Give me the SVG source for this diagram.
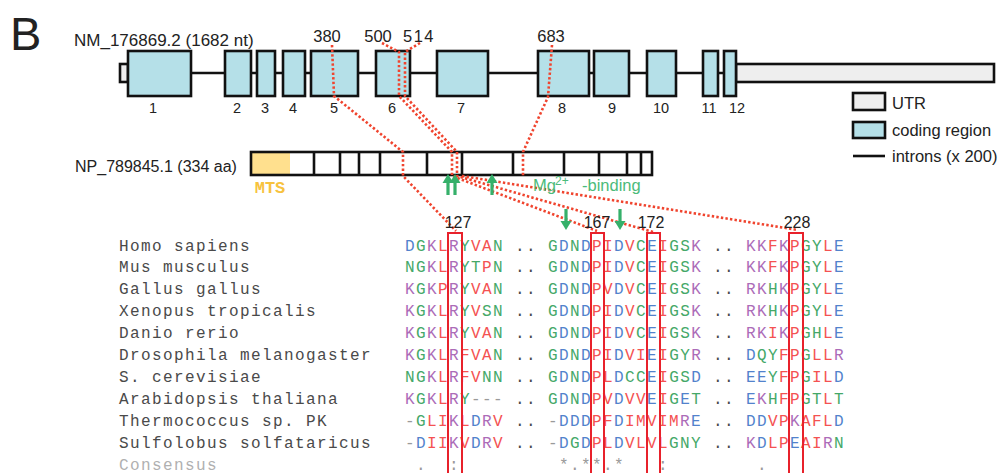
<svg xmlns="http://www.w3.org/2000/svg" xmlns:xlink="http://www.w3.org/1999/xlink" width="1005" height="473" viewBox="0 0 1005 473">
<style>
.sans{font-family:"Liberation Sans",Arial,sans-serif;fill:#222}
.mono{font-family:"Liberation Mono","Courier New",monospace;font-size:16px;letter-spacing:1.4px}
.sp{fill:#4a4a4a}
.b{fill:#5282cc}.r{fill:#f45252}.g{fill:#45a868}.m{fill:#ac6cb8}.x{fill:#9a9a9a}
.exon{fill:#b5e0e8;stroke:#111;stroke-width:2.6}
.utr{fill:#eeeeee;stroke:#111;stroke-width:2.6}
.seg{fill:none;stroke:#111;stroke-width:2.6}
.dot{fill:none;stroke:#f0442e;stroke-width:2.6;stroke-dasharray:2.4 2.2}
.box{fill:none;stroke:#e8212b;stroke-width:2}
.arr{fill:#35b06a}
</style>
<defs>
<g id="uparrow"><polygon points="0,0 -5.5,9 5.5,9"/><rect x="-1.6" y="8" width="3.2" height="13"/></g>
</defs>
<rect width="1005" height="473" fill="#fff"/>
<text class="sans" x="10" y="50" font-size="47">B</text>

<!-- gene structure -->
<g id="transcript">
<text class="sans" x="74" y="46" font-size="17">NM_176869.2 (1682 nt)</text>
<line x1="128" y1="73" x2="736" y2="73" stroke="#111" stroke-width="2.6"/>
<rect class="utr" x="120" y="64" width="8" height="18"/>
<rect class="utr" x="736" y="64" width="258" height="18"/>
<g id="exon1"><rect class="exon" x="128" y="51" width="63" height="45"/><text class="sans" x="153" y="113" font-size="14.5" text-anchor="middle">1</text></g>
<g id="exon2"><rect class="exon" x="225" y="51" width="26" height="45"/><text class="sans" x="237" y="113" font-size="14.5" text-anchor="middle">2</text></g>
<g id="exon3"><rect class="exon" x="257" y="51" width="18" height="45"/><text class="sans" x="265" y="113" font-size="14.5" text-anchor="middle">3</text></g>
<g id="exon4"><rect class="exon" x="283" y="51" width="22" height="45"/><text class="sans" x="293" y="113" font-size="14.5" text-anchor="middle">4</text></g>
<g id="exon5"><rect class="exon" x="311" y="51" width="47" height="45"/><text class="sans" x="334" y="113" font-size="14.5" text-anchor="middle">5</text></g>
<g id="exon6"><rect class="exon" x="376" y="51" width="34" height="45"/><text class="sans" x="392" y="113" font-size="14.5" text-anchor="middle">6</text></g>
<g id="exon7"><rect class="exon" x="437" y="51" width="51" height="45"/><text class="sans" x="461" y="113" font-size="14.5" text-anchor="middle">7</text></g>
<g id="exon8"><rect class="exon" x="538" y="51" width="51" height="45"/><text class="sans" x="562" y="113" font-size="14.5" text-anchor="middle">8</text></g>
<g id="exon9"><rect class="exon" x="594" y="51" width="35" height="45"/><text class="sans" x="612" y="113" font-size="14.5" text-anchor="middle">9</text></g>
<g id="exon10"><rect class="exon" x="647" y="51" width="29" height="45"/><text class="sans" x="661" y="113" font-size="14.5" text-anchor="middle">10</text></g>
<g id="exon11"><rect class="exon" x="703" y="51" width="15" height="45"/><text class="sans" x="709" y="113" font-size="14.5" text-anchor="middle">11</text></g>
<g id="exon12"><rect class="exon" x="724" y="51" width="12" height="45"/><text class="sans" x="737" y="113" font-size="14.5" text-anchor="middle">12</text></g>
<text class="sans" x="327" y="42" font-size="16.5" text-anchor="middle">380</text>
<text class="sans" x="378" y="42" font-size="16.5" text-anchor="middle">500</text>
<text class="sans" x="419" y="42" font-size="16.5" text-anchor="middle" letter-spacing="1.5">514</text>
<text class="sans" x="551" y="42" font-size="16.5" text-anchor="middle">683</text>
</g>

<!-- legend -->
<g id="legend">
<rect class="utr" x="853" y="93" width="32" height="17"/>
<text class="sans" x="892" y="109" font-size="16.5">UTR</text>
<rect class="exon" x="853" y="122" width="32" height="16"/>
<text class="sans" x="892" y="136" font-size="16.5">coding region</text>
<line x1="853" y1="156" x2="885" y2="156" stroke="#111" stroke-width="2.6"/>
<text class="sans" x="892" y="162" font-size="16.5">introns (x 200)</text>
</g>

<!-- protein -->
<g id="protein">
<text class="sans" x="75" y="172" font-size="16">NP_789845.1 (334 aa)</text>
<rect x="251" y="152" width="39" height="23" fill="#ffe08e"/>
<rect class="seg" x="251" y="152" width="401" height="23"/>
<path class="seg" d="M314 152V175M340 152V175M359 152V175M380 152V175M427 152V175M462 152V175M513 152V175M564 152V175M599 152V175M627 152V175M641 152V175"/>
<text x="270" y="193" font-family="Liberation Mono,Courier New,monospace" font-weight="bold" font-size="17" fill="#f7c23e" text-anchor="middle">MTS</text>
</g>

<!-- connectors -->
<g id="connectors">
<polyline class="dot" points="332,45 334,96 403,152 403,176 456,231"/>
<polyline class="dot" points="382,43 399,52 399,96 452,152 452,176 597,231"/>
<polyline class="dot" points="420,43 405,52 405,96 457,152 457,176 653,232"/>
<polyline class="dot" points="552,45 548,97 523,152 523,176"/>
<line class="dot" x1="462" y1="176" x2="798" y2="230"/>
</g>

<g id="mg-binding" class="arr">
<use xlink:href="#uparrow" href="#uparrow" transform="translate(448,174)"/>
<use xlink:href="#uparrow" href="#uparrow" transform="translate(455,174)"/>
<use xlink:href="#uparrow" href="#uparrow" transform="translate(492,174)"/>
<use xlink:href="#uparrow" href="#uparrow" transform="translate(566,230) rotate(180)"/>
<use xlink:href="#uparrow" href="#uparrow" transform="translate(620,230) rotate(180)"/>
<text x="533" y="191" font-family="Liberation Sans,Arial,sans-serif" font-size="16.5" fill="#4cbb7a">Mg<tspan x="555" dy="-6" font-size="12">2+</tspan><tspan x="582" dy="6">-binding</tspan></text>
</g>

<!-- residue numbers -->
<g id="positions">
<text class="sans" x="458" y="228" font-size="16" text-anchor="middle">127</text>
<text class="sans" x="597" y="228" font-size="16" text-anchor="middle">167</text>
<text class="sans" x="651" y="228" font-size="16" text-anchor="middle">172</text>
<text class="sans" x="797" y="228" font-size="16" text-anchor="middle">228</text>
</g>

<!-- alignment -->
<g id="alignment" class="mono">
<g id="row-homo">
<text class="sp" x="119" y="250.5">Homo sapiens</text>
<text x="405" y="250.5"><tspan class="b">D</tspan><tspan class="g">G</tspan><tspan class="m">K</tspan><tspan class="r">L</tspan><tspan class="m">R</tspan><tspan class="g">Y</tspan><tspan class="r">VA</tspan><tspan class="g">N</tspan></text>
<text class="sp" x="515" y="250.5">..</text>
<text x="548" y="250.5"><tspan class="g">G</tspan><tspan class="b">D</tspan><tspan class="g">N</tspan><tspan class="b">D</tspan><tspan class="r">PI</tspan><tspan class="b">D</tspan><tspan class="r">V</tspan><tspan class="g">C</tspan><tspan class="b">E</tspan><tspan class="r">I</tspan><tspan class="g">GS</tspan><tspan class="m">K</tspan></text>
<text class="sp" x="713" y="250.5">..</text>
<text x="746" y="250.5"><tspan class="m">KK</tspan><tspan class="r">F</tspan><tspan class="m">K</tspan><tspan class="r">P</tspan><tspan class="g">GY</tspan><tspan class="r">L</tspan><tspan class="b">E</tspan></text>
</g>
<g id="row-mus">
<text class="sp" x="119" y="272.4">Mus musculus</text>
<text x="405" y="272.4"><tspan class="g">NG</tspan><tspan class="m">K</tspan><tspan class="r">L</tspan><tspan class="m">R</tspan><tspan class="g">YT</tspan><tspan class="r">P</tspan><tspan class="g">N</tspan></text>
<text class="sp" x="515" y="272.4">..</text>
<text x="548" y="272.4"><tspan class="g">G</tspan><tspan class="b">D</tspan><tspan class="g">N</tspan><tspan class="b">D</tspan><tspan class="r">PI</tspan><tspan class="b">D</tspan><tspan class="r">V</tspan><tspan class="g">C</tspan><tspan class="b">E</tspan><tspan class="r">I</tspan><tspan class="g">GS</tspan><tspan class="m">K</tspan></text>
<text class="sp" x="713" y="272.4">..</text>
<text x="746" y="272.4"><tspan class="m">KK</tspan><tspan class="r">F</tspan><tspan class="m">K</tspan><tspan class="r">P</tspan><tspan class="g">GY</tspan><tspan class="r">L</tspan><tspan class="b">E</tspan></text>
</g>
<g id="row-gallus">
<text class="sp" x="119" y="294.3">Gallus gallus</text>
<text x="405" y="294.3"><tspan class="m">K</tspan><tspan class="g">G</tspan><tspan class="m">K</tspan><tspan class="r">P</tspan><tspan class="m">R</tspan><tspan class="g">Y</tspan><tspan class="r">VA</tspan><tspan class="g">N</tspan></text>
<text class="sp" x="515" y="294.3">..</text>
<text x="548" y="294.3"><tspan class="g">G</tspan><tspan class="b">D</tspan><tspan class="g">N</tspan><tspan class="b">D</tspan><tspan class="r">PV</tspan><tspan class="b">D</tspan><tspan class="r">V</tspan><tspan class="g">C</tspan><tspan class="b">E</tspan><tspan class="r">I</tspan><tspan class="g">GS</tspan><tspan class="m">K</tspan></text>
<text class="sp" x="713" y="294.3">..</text>
<text x="746" y="294.3"><tspan class="m">RK</tspan><tspan class="g">H</tspan><tspan class="m">K</tspan><tspan class="r">P</tspan><tspan class="g">GY</tspan><tspan class="r">L</tspan><tspan class="b">E</tspan></text>
</g>
<g id="row-xenopus">
<text class="sp" x="119" y="316.2">Xenopus tropicalis</text>
<text x="405" y="316.2"><tspan class="m">K</tspan><tspan class="g">G</tspan><tspan class="m">K</tspan><tspan class="r">L</tspan><tspan class="m">R</tspan><tspan class="g">Y</tspan><tspan class="r">V</tspan><tspan class="g">SN</tspan></text>
<text class="sp" x="515" y="316.2">..</text>
<text x="548" y="316.2"><tspan class="g">G</tspan><tspan class="b">D</tspan><tspan class="g">N</tspan><tspan class="b">D</tspan><tspan class="r">PI</tspan><tspan class="b">D</tspan><tspan class="r">V</tspan><tspan class="g">C</tspan><tspan class="b">E</tspan><tspan class="r">I</tspan><tspan class="g">GS</tspan><tspan class="m">K</tspan></text>
<text class="sp" x="713" y="316.2">..</text>
<text x="746" y="316.2"><tspan class="m">RK</tspan><tspan class="g">H</tspan><tspan class="m">K</tspan><tspan class="r">P</tspan><tspan class="g">GY</tspan><tspan class="r">L</tspan><tspan class="b">E</tspan></text>
</g>
<g id="row-danio">
<text class="sp" x="119" y="338.1">Danio rerio</text>
<text x="405" y="338.1"><tspan class="m">K</tspan><tspan class="g">G</tspan><tspan class="m">K</tspan><tspan class="r">L</tspan><tspan class="m">R</tspan><tspan class="g">Y</tspan><tspan class="r">VA</tspan><tspan class="g">N</tspan></text>
<text class="sp" x="515" y="338.1">..</text>
<text x="548" y="338.1"><tspan class="g">G</tspan><tspan class="b">D</tspan><tspan class="g">N</tspan><tspan class="b">D</tspan><tspan class="r">PI</tspan><tspan class="b">D</tspan><tspan class="r">V</tspan><tspan class="g">C</tspan><tspan class="b">E</tspan><tspan class="r">I</tspan><tspan class="g">GS</tspan><tspan class="m">K</tspan></text>
<text class="sp" x="713" y="338.1">..</text>
<text x="746" y="338.1"><tspan class="m">RK</tspan><tspan class="r">I</tspan><tspan class="m">K</tspan><tspan class="r">P</tspan><tspan class="g">GH</tspan><tspan class="r">L</tspan><tspan class="b">E</tspan></text>
</g>
<g id="row-drosophila">
<text class="sp" x="119" y="360">Drosophila melanogaster</text>
<text x="405" y="360"><tspan class="m">K</tspan><tspan class="g">G</tspan><tspan class="m">K</tspan><tspan class="r">L</tspan><tspan class="m">R</tspan><tspan class="r">FVA</tspan><tspan class="g">N</tspan></text>
<text class="sp" x="515" y="360">..</text>
<text x="548" y="360"><tspan class="g">G</tspan><tspan class="b">D</tspan><tspan class="g">N</tspan><tspan class="b">D</tspan><tspan class="r">PI</tspan><tspan class="b">D</tspan><tspan class="r">VI</tspan><tspan class="b">E</tspan><tspan class="r">I</tspan><tspan class="g">GY</tspan><tspan class="m">R</tspan></text>
<text class="sp" x="713" y="360">..</text>
<text x="746" y="360"><tspan class="b">D</tspan><tspan class="g">QY</tspan><tspan class="r">FP</tspan><tspan class="g">G</tspan><tspan class="r">LL</tspan><tspan class="m">R</tspan></text>
</g>
<g id="row-scerevisiae">
<text class="sp" x="119" y="381.9">S. cerevisiae</text>
<text x="405" y="381.9"><tspan class="g">NG</tspan><tspan class="m">K</tspan><tspan class="r">L</tspan><tspan class="m">R</tspan><tspan class="r">FV</tspan><tspan class="g">NN</tspan></text>
<text class="sp" x="515" y="381.9">..</text>
<text x="548" y="381.9"><tspan class="g">G</tspan><tspan class="b">D</tspan><tspan class="g">N</tspan><tspan class="b">D</tspan><tspan class="r">PL</tspan><tspan class="b">D</tspan><tspan class="g">CC</tspan><tspan class="b">E</tspan><tspan class="r">I</tspan><tspan class="g">GS</tspan><tspan class="b">D</tspan></text>
<text class="sp" x="713" y="381.9">..</text>
<text x="746" y="381.9"><tspan class="b">EE</tspan><tspan class="g">Y</tspan><tspan class="r">FP</tspan><tspan class="g">G</tspan><tspan class="r">IL</tspan><tspan class="b">D</tspan></text>
</g>
<g id="row-arabidopsis">
<text class="sp" x="119" y="403.8">Arabidopsis thaliana</text>
<text x="405" y="403.8"><tspan class="m">K</tspan><tspan class="g">G</tspan><tspan class="m">K</tspan><tspan class="r">L</tspan><tspan class="m">R</tspan><tspan class="g">Y</tspan><tspan class="x">---</tspan></text>
<text class="sp" x="515" y="403.8">..</text>
<text x="548" y="403.8"><tspan class="g">G</tspan><tspan class="b">D</tspan><tspan class="g">N</tspan><tspan class="b">D</tspan><tspan class="r">PV</tspan><tspan class="b">D</tspan><tspan class="r">VV</tspan><tspan class="b">E</tspan><tspan class="r">I</tspan><tspan class="g">G</tspan><tspan class="b">E</tspan><tspan class="g">T</tspan></text>
<text class="sp" x="713" y="403.8">..</text>
<text x="746" y="403.8"><tspan class="b">E</tspan><tspan class="m">K</tspan><tspan class="g">H</tspan><tspan class="r">FP</tspan><tspan class="g">GT</tspan><tspan class="r">L</tspan><tspan class="g">T</tspan></text>
</g>
<g id="row-thermococcus">
<text class="sp" x="119" y="425.7">Thermococcus sp. PK</text>
<text x="405" y="425.7"><tspan class="x">-</tspan><tspan class="g">G</tspan><tspan class="r">LI</tspan><tspan class="m">K</tspan><tspan class="r">L</tspan><tspan class="b">D</tspan><tspan class="m">R</tspan><tspan class="r">V</tspan></text>
<text class="sp" x="515" y="425.7">..</text>
<text x="548" y="425.7"><tspan class="x">-</tspan><tspan class="b">DDD</tspan><tspan class="r">PF</tspan><tspan class="b">D</tspan><tspan class="r">IMVIM</tspan><tspan class="m">R</tspan><tspan class="b">E</tspan></text>
<text class="sp" x="713" y="425.7">..</text>
<text x="746" y="425.7"><tspan class="b">DD</tspan><tspan class="r">VP</tspan><tspan class="m">K</tspan><tspan class="r">AFL</tspan><tspan class="b">D</tspan></text>
</g>
<g id="row-sulfolobus">
<text class="sp" x="119" y="447.6">Sulfolobus solfataricus</text>
<text x="405" y="447.6"><tspan class="x">-</tspan><tspan class="b">D</tspan><tspan class="r">II</tspan><tspan class="m">K</tspan><tspan class="r">V</tspan><tspan class="b">D</tspan><tspan class="m">R</tspan><tspan class="r">V</tspan></text>
<text class="sp" x="515" y="447.6">..</text>
<text x="548" y="447.6"><tspan class="x">-</tspan><tspan class="b">D</tspan><tspan class="g">G</tspan><tspan class="b">D</tspan><tspan class="r">PL</tspan><tspan class="b">D</tspan><tspan class="r">VLVL</tspan><tspan class="g">GNY</tspan></text>
<text class="sp" x="713" y="447.6">..</text>
<text x="746" y="447.6"><tspan class="m">K</tspan><tspan class="b">D</tspan><tspan class="r">LP</tspan><tspan class="b">E</tspan><tspan class="r">AI</tspan><tspan class="m">R</tspan><tspan class="g">N</tspan></text>
</g>
<g id="row-consensus">
<text x="119" y="469.5" fill="#b0b0b0">Consensus</text>
<text x="416 449 559 570 581 592 603 614 658 757" y="469.5" fill="#999">.:*.**.*:.</text>
</g>
</g>

<!-- highlight boxes -->
<g id="highlights">
<rect class="box" x="448" y="233" width="14" height="250"/>
<rect class="box" x="591" y="233" width="13" height="250"/>
<rect class="box" x="647" y="233" width="13" height="250"/>
<rect class="box" x="789" y="233" width="14" height="250"/>
</g>
</svg>
